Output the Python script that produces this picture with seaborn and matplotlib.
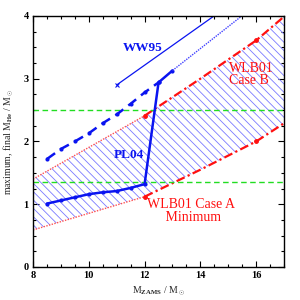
import matplotlib
matplotlib.use("Agg")
import matplotlib.pyplot as plt
import seaborn as sns
import numpy as np

# WLB01 boundaries (lower = Case A minimum, upper = Case B)
wlb_x = [8, 12, 14, 16, 17]
wlb_lower = [0.59, 1.12, 1.55, 2.00, 2.29]
wlb_upper = [1.40, 2.41, 3.00, 3.61, 3.99]

# PL04 solid track
pl_x = [8.5, 9, 9.5, 10, 10.5, 11, 11.5, 12, 12.5, 13]
pl_y = [1.01, 1.06, 1.11, 1.16, 1.19, 1.21, 1.26, 1.32, 2.94, 3.13]

# PL04 dashed track
pld_x = [8.5, 9, 9.5, 10, 10.5, 11, 11.5, 12, 12.5]
pld_y = [1.72, 1.88, 2.00, 2.13, 2.29, 2.43, 2.60, 2.78, 2.94]

# dotted extension
ext_x = [13, 16]
ext_y = [3.13, 4.18]

# WW95
ww_x = [11, 15]
ww_y = [2.90, 4.16]

green_levels = [2.5, 1.36]

sns.set_theme(style="ticks")
plt.rcParams["font.family"] = ["Liberation Serif", "DejaVu Serif"]
plt.rcParams["font.weight"] = "bold"
plt.rcParams["mathtext.fontset"] = "custom"
plt.rcParams["mathtext.rm"] = "Liberation Serif:bold"
plt.rcParams["mathtext.it"] = "Liberation Serif:bold"
plt.rcParams["hatch.linewidth"] = 0.6

fig = plt.figure(figsize=(3, 3), dpi=100)
ax = fig.add_axes([0.11, 0.11, 0.837, 0.837])

blue = "#0a14f0"
red = "#ff1010"

# hatched region between WLB01 bounds
ax.fill_between(wlb_x, wlb_lower, wlb_upper, facecolor="none",
                edgecolor="#7a7aff", hatch="\\\\\\\\", linewidth=0)

# red boundaries: dotted below 12, dash-dot above
for yy in (wlb_lower, wlb_upper):
    sns.lineplot(x=wlb_x[:2], y=yy[:2], ax=ax, color="#ff5050",
                 linestyle=(0, (1, 1)), linewidth=1.0, sort=False)
    sns.lineplot(x=wlb_x[1:], y=yy[1:], ax=ax, color=red,
                 linestyle=(0, (4, 1.5, 1, 1.5)), linewidth=1.6, sort=False)
    ax.plot([wlb_x[1], wlb_x[3]], [yy[1], yy[3]], "o", color=red, ms=2.5)

for g in green_levels:
    ax.axhline(g, color="#22dd22", linestyle=(0, (4, 2.5)), linewidth=1.0)

sns.lineplot(x=pl_x, y=pl_y, ax=ax, color=blue, linewidth=1.8, sort=False,
             marker="o", markersize=3, markeredgewidth=0)
sns.lineplot(x=pld_x, y=pld_y, ax=ax, color=blue, linewidth=1.8, sort=False,
             linestyle=(0, (4, 2.5)), marker="o", markersize=3, markeredgewidth=0)
sns.lineplot(x=ext_x, y=ext_y, ax=ax, color="#4040ff", linewidth=1.0,
             linestyle=(0, (1, 0.8)), sort=False)
sns.lineplot(x=ww_x, y=ww_y, ax=ax, color=blue, linewidth=0.9, sort=False)
ax.plot(ww_x[0], ww_y[0], "x", color=blue, ms=2.5, mew=0.8)

ax.text(11.94, 3.49, "WW95", color=blue, fontsize=9.5, fontweight="bold",
        ha="center", va="center")
ax.text(11.44, 1.78, "PL04", color=blue, fontsize=9.5, fontweight="bold",
        ha="center", va="center")
ax.text(15.03, 3.07, "WLB01\nCase B", color=red, fontsize=10,
        fontweight="normal", ha="left", va="center", linespacing=0.95)
ax.text(13.68, 0.89, "WLB01 Case A\n Minimum", color=red, fontsize=10,
        fontweight="normal", ha="center", va="center", linespacing=0.95,
        multialignment="center")

ax.set_xlim(8, 17)
ax.set_ylim(0, 4)
ax.set_xticks([8, 10, 12, 14, 16])
ax.set_yticks([0, 1, 2, 3, 4])
ax.set_xticks(np.arange(8, 17.01, 0.5), minor=True)
ax.set_yticks(np.arange(0, 4.01, 0.25), minor=True)
ax.tick_params(which="both", direction="in", top=True, right=True,
               labelsize=7.5, width=0.8, colors="black", pad=3)
ax.tick_params(which="major", length=4)
ax.tick_params(which="minor", length=2)
for lab in ax.get_xticklabels() + ax.get_yticklabels():
    lab.set_fontweight("bold")
for s in ax.spines.values():
    s.set_linewidth(1.0)
    s.set_color("black")

ax.set_xlabel(r"M$_{\rm ZAMS}$ / M$_\odot$", fontsize=7, labelpad=3)
ax.set_ylabel(r"maximum, final M$_{\rm He}$ / M$_\odot$", fontsize=7, labelpad=6)

fig.savefig("out.png", dpi=100)
